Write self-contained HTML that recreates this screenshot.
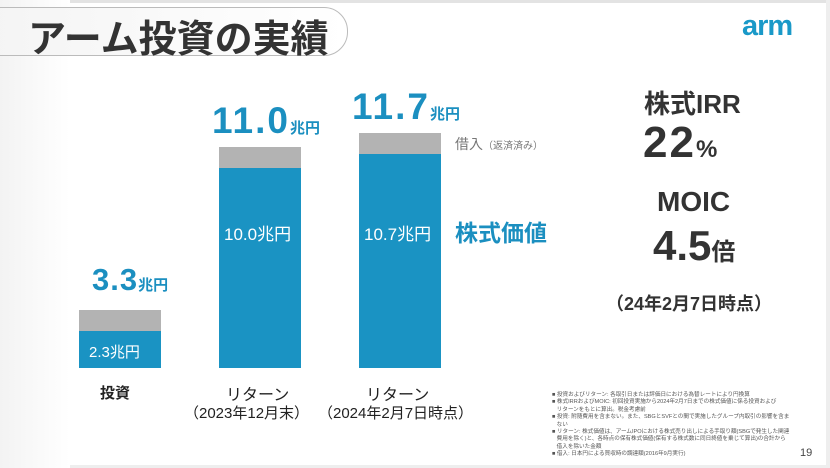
<!DOCTYPE html>
<html><head><meta charset="utf-8"><style>
*{margin:0;padding:0;box-sizing:border-box}
body{width:830px;height:468px;overflow:hidden;background:#fff;font-family:"Liberation Sans","Noto Sans CJK JP",sans-serif;position:relative}
.a{position:absolute;white-space:nowrap}
.bl{color:#1b8fc0;font-weight:bold}
.bar{position:absolute}
.g{background:#b3b3b3}.b{background:#1a93c3}
.fn{font-size:5.6px;color:#555;line-height:7.4px}
</style></head><body>
<div class="a" style="left:0;top:0;width:830px;height:3px;background:#e3e3e3"></div>
<div class="a" style="left:826px;top:0;width:4px;height:468px;background:#eee"></div>
<div class="a" style="left:0;top:465px;width:830px;height:3px;background:#eee"></div>
<div class="a" style="left:0;top:0;width:70px;height:468px;background:linear-gradient(90deg,#f3f3f3,#fff)"></div>
<div class="a" style="left:-20px;top:7px;width:368px;height:49px;border:1px solid #bbb;border-radius:0 24px 24px 0;background:linear-gradient(90deg,#f4f4f4,#fff)"></div>
<div class="a" style="left:28px;top:8px;font-size:38px;color:#333;font-weight:bold">アーム投資の実績</div>
<div class="a" style="left:742px;top:10px;font-size:29px;color:#1a99c8;font-weight:bold;letter-spacing:-1px">arm</div>

<div class="bar g" style="left:79px;top:310px;width:82px;height:21px"></div>
<div class="bar b" style="left:79px;top:331px;width:82px;height:37px"></div>
<div class="bar g" style="left:219px;top:147px;width:82px;height:21px"></div>
<div class="bar b" style="left:219px;top:168px;width:82px;height:200px"></div>
<div class="bar g" style="left:359px;top:133px;width:82px;height:21px"></div>
<div class="bar b" style="left:359px;top:154px;width:82px;height:214px"></div>

<div class="a bl" style="left:92px;top:262px;font-size:31px;letter-spacing:1px">3.3<span style="font-size:15px;letter-spacing:0">兆円</span></div>
<div class="a bl" style="left:212px;top:100px;font-size:37px;letter-spacing:2px">11.0<span style="font-size:15px;letter-spacing:0">兆円</span></div>
<div class="a bl" style="left:352px;top:86px;font-size:37px;letter-spacing:2px">11.7<span style="font-size:15px;letter-spacing:0">兆円</span></div>
<div class="a" style="left:89px;top:341px;font-size:15px;color:#fff">2.3兆円</div>
<div class="a" style="left:224px;top:220px;font-size:17px;color:#fff">10.0兆円</div>
<div class="a" style="left:364px;top:220px;font-size:17px;color:#fff">10.7兆円</div>
<div class="a" style="left:455px;top:134px;font-size:14px;color:#777">借入<span style="font-size:10px">（返済済み）</span></div>
<div class="a bl" style="left:455px;top:214px;font-size:23px">株式価値</div>

<div class="a" style="left:100px;top:382px;font-size:15px;font-weight:bold;color:#222">投資</div>
<div class="a" style="left:226px;top:381px;font-size:16px;color:#222">リターン</div>
<div class="a" style="left:184px;top:402px;font-size:15px;color:#222">（2023年12月末）</div>
<div class="a" style="left:366px;top:381px;font-size:16px;color:#222">リターン</div>
<div class="a" style="left:318px;top:402px;font-size:15px;color:#222">（2024年2月7日時点）</div>

<div class="a" style="left:644px;top:84px;font-size:26px;color:#333;font-weight:bold">株式IRR</div>
<div class="a" style="left:643px;top:118px;font-size:44px;color:#333;font-weight:bold;letter-spacing:2px">22<span style="font-size:24px">%</span></div>
<div class="a" style="left:657px;top:186px;font-size:28px;color:#333;font-weight:bold">MOIC</div>
<div class="a" style="left:653px;top:222px;font-size:42px;color:#333;font-weight:bold">4.5<span style="font-size:24px">倍</span></div>
<div class="a" style="left:606px;top:290px;font-size:18px;color:#333;font-weight:bold">（24年2月7日時点）</div>

<div class="a fn" style="left:552px;top:392px">■ 投資およびリターン: 各取引日または評価日における為替レートにより円換算<br>■ 株式IRRおよびMOIC: 初回投資実施から2024年2月7日までの株式価値に係る投資および<br>&nbsp;&nbsp;&nbsp;リターンをもとに算出。税金考慮前<br>■ 投資: 附随費用を含まない。また、SBGとSVFとの間で実施したグループ内取引の影響を含ま<br>&nbsp;&nbsp;&nbsp;ない<br>■ リターン: 株式価値は、アームIPOにおける株式売り出しによる手取り額(SBGで発生した関連<br>&nbsp;&nbsp;&nbsp;費用を除く)と、各時点の保有株式価値(保有する株式数に同日終値を乗じて算出)の合計から<br>&nbsp;&nbsp;&nbsp;借入を除いた金額<br>■ 借入: 日本円による買収時の調達額(2016年9月実行)</div>
<div class="a" style="left:800px;top:447px;font-size:11px;color:#444">19</div>
</body></html>
